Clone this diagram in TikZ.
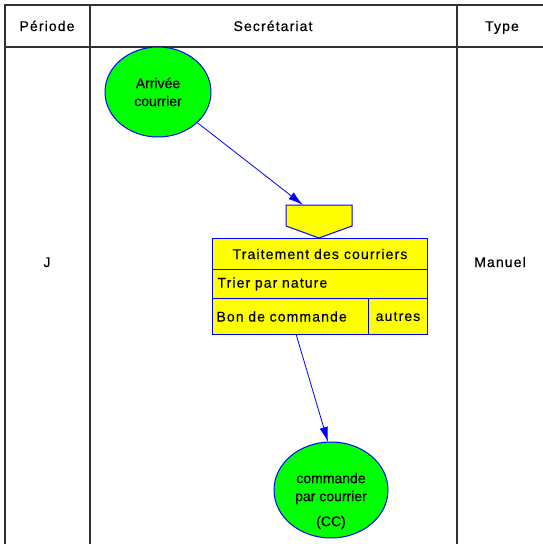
\documentclass[tikz,border=0pt]{standalone}
\usepackage{fontspec}
\setmainfont{Liberation Sans}[FakeBold=0.4]
\newfontfamily\spfont{Liberation Sans}[LetterSpace=8,FakeBold=0.4]
\newfontfamily\ovfont{Liberation Sans}[FakeBold=0.4]
\usetikzlibrary{arrows.meta,shapes.geometric}
\definecolor{gr}{RGB}{0,255,0}
\definecolor{bl}{RGB}{0,0,255}
\definecolor{ye}{RGB}{255,255,0}
\definecolor{ln}{RGB}{50,50,50}
\begin{document}
\begin{tikzpicture}[x=1pt,y=-1pt,
  grid/.style={draw=ln, line width=1.6pt},
  hdr/.style={font=\spfont\fontsize{14}{16}\selectfont, inner sep=0pt, anchor=base},
  oval/.style={ellipse, draw=bl, fill=gr, line width=1pt, inner sep=0pt,
     font=\ovfont\fontsize{14}{18}\selectfont, align=center},
  cell/.style={rectangle, draw=bl, fill=ye, line width=1pt, anchor=north west,
     font=\spfont\fontsize{14}{16}\selectfont, inner sep=0pt},
  flow/.style={draw=bl, line width=0.8pt, -{Latex[length=15pt,width=8.5pt]}}]
\clip (0,0) rectangle (543,544);
\fill[white] (0,0) rectangle (543,544);
% table
\draw[grid] (560,5) -- (5,5) -- (5,560);
\draw[grid] (5,47) -- (560,47);
\draw[grid] (90,5) -- (90,560);
\draw[grid] (457,5) -- (457,560);
\node[hdr] (hp) at (47,31) {Période};
\node[hdr] (hs) at (273,31) {Secrétariat};
\node[hdr] (ht) at (502,31) {Type};
\node[hdr] (per) at (47,267) {J};
\node[hdr] (typ) at (500,267) {Manuel};
% start event
\node[oval, minimum width=106, minimum height=90] (e1) at (158,92) {Arrivée\\courrier};
% pentagon
\draw[draw=bl, fill=ye, line width=1pt] (286,205) -- (352,205) -- (352,226) -- (319,238) -- (286,226) -- cycle;
\coordinate (pin) at (303,205);
% function box
\node[cell, minimum width=215, minimum height=31] (r1) at (212,238) {Traitement des courriers};
\node[cell, minimum width=215, minimum height=29, text width=205, align=left] (r2) at (212,269) {Trier par nature};
\node[cell, minimum width=156, minimum height=36, text width=148, align=left] (r3a) at (212,298) {Bon de commande};
\node[cell, minimum width=59, minimum height=36] (r3b) at (368,298) {autres};
\coordinate (bout) at (296,334);
% end event
\node[oval, minimum width=114, minimum height=96] (e2) at (331,490) {};
\node[font=\ovfont\fontsize{14}{18}\selectfont, align=center, inner sep=0pt] (t2) at (331,501) {commande\\par courrier\\[7pt](CC)};
\coordinate (pend) at (328,442);
% connectors
\draw[flow] (e1) -- (pin);
\draw[flow] (bout) -- (pend);
\end{tikzpicture}
\end{document}
